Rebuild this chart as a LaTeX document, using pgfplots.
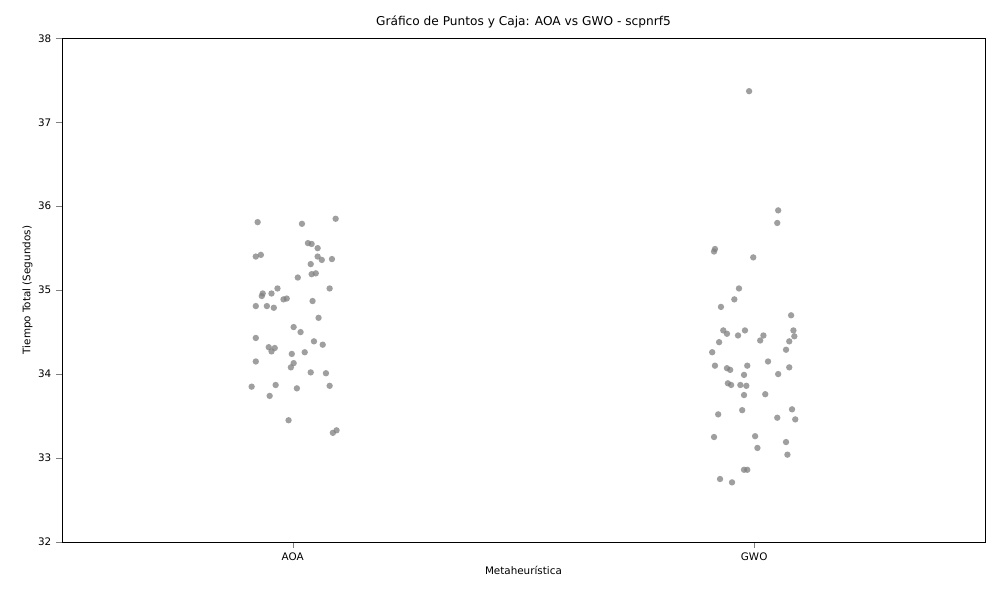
\documentclass[border=0pt]{standalone}
\usepackage{pgfplots}
\pgfplotsset{compat=1.18}
\usepgfplotslibrary{statistics}
\usepackage{fontspec}
\setmainfont{DejaVu Sans}
\definecolor{bx}{HTML}{999999}
\definecolor{pt}{HTML}{7F7F7F}
\begin{document}
\begin{tikzpicture}
\useasboundingbox (-44.8pt,-41.9pt) rectangle (677.9pt,391.7pt);
\begin{axis}[
  scale only axis, width=667pt, height=364pt,
  xmin=-0.5, xmax=1.5, ymin=32, ymax=38,
  xtick={0,1}, xticklabels={AOA,GWO},
  ytick={32,33,34,35,36,37,38},
  tick align=outside, xtick pos=bottom, ytick pos=left,
  /pgf/number format/assume math mode=true,
  tick label style={font=\fontsize{7.5}{8}\selectfont},
  label style={font=\fontsize{7.5}{8}\selectfont},
  title style={font=\fontsize{8.8}{10}\selectfont, yshift=-2pt},
  title={Gráfico de Puntos y Caja: AOA vs GWO - scpnrf5},
  xlabel={Metaheurística}, ylabel={Tiempo Total (Segundos)},
  xlabel style={yshift=3pt}, ylabel style={yshift=-3pt},
]
\addplot+[draw=bx, solid, mark=o, mark options={draw=bx, fill=white, mark size=2.8pt, solid},
  boxplot prepared={draw position=0, lower whisker=33.3, lower quartile=34.18, median=34.8, upper quartile=35.2, upper whisker=35.85, box extend=0.8, whisker extend=0.4}] table[row sep=\\, y index=0] {\\};
\addplot+[draw=bx, solid, mark=o, mark options={draw=bx, fill=white, mark size=2.8pt, solid},
  boxplot prepared={draw position=1, lower whisker=32.72, lower quartile=33.58, median=34.08, upper quartile=34.5, upper whisker=35.8, box extend=0.8, whisker extend=0.4}] table[row sep=\\, y index=0] {35.95\\ 37.37\\};
\addplot[only marks, mark=*, mark size=2.3pt, mark options={draw opacity=0, fill=pt, fill opacity=0.75}] coordinates {
(-0.076,35.81)(0.093,35.85)(0.02,35.79)(0.033,35.56)(0.041,35.55)(0.054,35.50)(-0.08,35.40)(-0.069,35.42)(0.054,35.40)(0.063,35.36)(0.085,35.37)(0.039,35.31)(0.05,35.20)(0.041,35.19)(0.011,35.15)(-0.033,35.02)(0.08,35.02)(-0.065,34.96)(-0.046,34.96)(-0.067,34.93)(-0.013,34.90)(-0.02,34.89)(0.043,34.87)(-0.08,34.81)(-0.056,34.81)(-0.041,34.79)(0.056,34.67)(0.002,34.56)(0.017,34.50)(-0.08,34.43)(0.046,34.39)(0.065,34.35)(-0.052,34.32)(-0.039,34.31)(-0.046,34.27)(-0.002,34.24)(0.026,34.26)(-0.08,34.15)(0.002,34.13)(-0.004,34.08)(0.039,34.02)(0.072,34.01)(-0.037,33.87)(0.08,33.86)(-0.089,33.85)(0.009,33.83)(-0.05,33.74)(-0.009,33.45)(0.087,33.30)(0.095,33.33)
(0.989,37.37)(1.052,35.95)(1.05,35.80)(0.915,35.49)(0.913,35.46)(0.998,35.39)(0.967,35.02)(0.957,34.89)(0.928,34.80)(1.08,34.70)(0.933,34.52)(0.98,34.52)(1.085,34.52)(0.941,34.48)(0.965,34.46)(1.02,34.46)(1.087,34.45)(1.013,34.40)(0.924,34.38)(1.076,34.39)(1.069,34.29)(0.909,34.26)(1.03,34.15)(0.915,34.10)(0.941,34.07)(0.948,34.05)(0.985,34.10)(1.076,34.08)(0.978,33.99)(1.052,34.00)(0.943,33.89)(0.95,33.87)(0.97,33.87)(0.983,33.86)(1.024,33.76)(0.978,33.75)(0.974,33.57)(1.082,33.58)(0.922,33.52)(1.05,33.48)(1.089,33.46)(0.913,33.25)(1.002,33.26)(1.069,33.19)(1.007,33.12)(1.072,33.04)(0.978,32.86)(0.985,32.86)(0.926,32.75)(0.952,32.71)
};
\end{axis}
\end{tikzpicture}
\end{document}
